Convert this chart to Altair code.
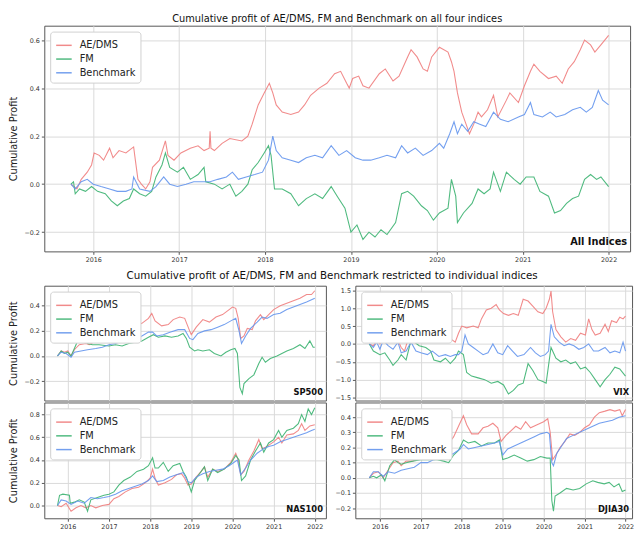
import altair as alt
import pandas as pd

SERIES = ["AE/DMS", "FM", "Benchmark"]
COLORS = ["#f07e7e", "#3cb371", "#6495ed"]
YEARS = [2016, 2017, 2018, 2019, 2020, 2021, 2022]
FONT = "DejaVu Sans"

# ---------------- All indices ----------------
ALL_AEDMS = [[2015.74,0.00],[2015.81,-0.02],[2015.86,0.02],[2015.93,0.05],[2015.98,0.08],[2016.01,0.13],[2016.07,0.12],[2016.12,0.10],[2016.19,0.15],[2016.23,0.11],[2016.30,0.14],[2016.38,0.13],[2016.47,0.155],[2016.49,0.10],[2016.52,0.02],[2016.56,0.00],[2016.61,-0.02],[2016.66,0.01],[2016.69,0.07],[2016.77,0.10],[2016.84,0.18],[2016.87,0.12],[2016.94,0.10],[2017.02,0.13],[2017.13,0.15],[2017.22,0.16],[2017.29,0.14],[2017.35,0.15],[2017.36,0.22],[2017.37,0.15],[2017.41,0.14],[2017.50,0.17],[2017.59,0.19],[2017.73,0.18],[2017.80,0.20],[2017.85,0.25],[2017.92,0.33],[2017.99,0.38],[2018.05,0.42],[2018.09,0.38],[2018.13,0.33],[2018.20,0.30],[2018.30,0.29],[2018.39,0.30],[2018.46,0.33],[2018.53,0.37],[2018.63,0.40],[2018.72,0.42],[2018.81,0.46],[2018.88,0.47],[2018.95,0.42],[2018.98,0.40],[2019.02,0.44],[2019.09,0.45],[2019.14,0.41],[2019.21,0.40],[2019.33,0.46],[2019.40,0.48],[2019.49,0.43],[2019.56,0.45],[2019.66,0.53],[2019.70,0.56],[2019.77,0.53],[2019.84,0.48],[2019.89,0.47],[2019.94,0.53],[2020.03,0.57],[2020.13,0.55],[2020.17,0.51],[2020.20,0.47],[2020.24,0.38],[2020.29,0.30],[2020.34,0.25],[2020.38,0.21],[2020.43,0.25],[2020.48,0.30],[2020.52,0.28],[2020.59,0.31],[2020.66,0.37],[2020.71,0.28],[2020.81,0.35],[2020.85,0.38],[2020.95,0.34],[2021.02,0.41],[2021.09,0.47],[2021.13,0.50],[2021.20,0.47],[2021.30,0.44],[2021.39,0.45],[2021.46,0.42],[2021.53,0.48],[2021.60,0.51],[2021.67,0.56],[2021.72,0.60],[2021.79,0.58],[2021.84,0.55],[2021.91,0.58],[2022.00,0.62]]
ALL_FM = [[2015.74,0.00],[2015.77,0.01],[2015.79,-0.04],[2015.84,-0.02],[2015.91,-0.03],[2015.98,-0.01],[2016.05,-0.03],[2016.14,-0.04],[2016.21,-0.07],[2016.28,-0.09],[2016.35,-0.07],[2016.42,-0.06],[2016.47,-0.02],[2016.54,-0.04],[2016.61,-0.05],[2016.68,-0.03],[2016.73,0.03],[2016.80,0.08],[2016.84,0.13],[2016.89,0.07],[2016.98,0.05],[2017.05,0.07],[2017.13,0.02],[2017.22,0.04],[2017.29,0.07],[2017.31,0.01],[2017.41,0.00],[2017.50,-0.02],[2017.59,0.00],[2017.66,-0.05],[2017.73,-0.03],[2017.80,0.00],[2017.85,0.06],[2017.92,0.09],[2017.99,0.13],[2018.04,0.16],[2018.07,0.12],[2018.11,-0.02],[2018.20,-0.02],[2018.30,-0.04],[2018.39,-0.09],[2018.48,-0.06],[2018.58,-0.04],[2018.67,-0.06],[2018.77,-0.01],[2018.84,-0.05],[2018.93,-0.10],[2019.00,-0.20],[2019.07,-0.17],[2019.14,-0.23],[2019.21,-0.20],[2019.28,-0.22],[2019.35,-0.19],[2019.42,-0.21],[2019.52,-0.16],[2019.59,-0.04],[2019.66,-0.03],[2019.73,-0.05],[2019.82,-0.09],[2019.89,-0.11],[2019.96,-0.15],[2020.03,-0.12],[2020.13,-0.10],[2020.17,0.02],[2020.22,-0.05],[2020.24,-0.16],[2020.31,-0.12],[2020.41,-0.08],[2020.48,-0.02],[2020.55,-0.04],[2020.62,-0.02],[2020.66,0.05],[2020.74,-0.03],[2020.81,0.05],[2020.90,0.02],[2020.97,0.00],[2021.04,0.03],[2021.13,0.03],[2021.20,-0.03],[2021.30,-0.05],[2021.37,-0.12],[2021.44,-0.11],[2021.51,-0.08],[2021.58,-0.06],[2021.65,-0.05],[2021.72,0.02],[2021.79,0.04],[2021.86,0.02],[2021.91,0.03],[2022.00,-0.01]]
ALL_BENCH = [[2015.74,0.00],[2015.79,-0.02],[2015.86,0.01],[2015.93,0.02],[2016.00,0.00],[2016.09,-0.01],[2016.19,-0.02],[2016.28,-0.03],[2016.38,-0.03],[2016.45,-0.02],[2016.47,0.03],[2016.54,-0.02],[2016.66,-0.03],[2016.73,-0.01],[2016.82,0.03],[2016.89,0.00],[2016.98,-0.01],[2017.08,0.00],[2017.17,0.01],[2017.27,0.01],[2017.36,0.01],[2017.45,0.02],[2017.55,0.03],[2017.62,0.05],[2017.69,0.02],[2017.78,0.03],[2017.88,0.04],[2017.97,0.05],[2018.04,0.10],[2018.09,0.20],[2018.13,0.14],[2018.20,0.11],[2018.30,0.10],[2018.39,0.09],[2018.48,0.11],[2018.58,0.12],[2018.67,0.11],[2018.77,0.16],[2018.86,0.12],[2018.95,0.14],[2019.05,0.11],[2019.14,0.10],[2019.23,0.10],[2019.33,0.11],[2019.42,0.12],[2019.52,0.11],[2019.59,0.16],[2019.66,0.13],[2019.75,0.15],[2019.84,0.12],[2019.94,0.14],[2020.03,0.17],[2020.08,0.15],[2020.15,0.21],[2020.20,0.26],[2020.24,0.21],[2020.29,0.25],[2020.36,0.22],[2020.43,0.26],[2020.50,0.25],[2020.57,0.24],[2020.66,0.30],[2020.74,0.27],[2020.83,0.26],[2020.95,0.28],[2021.02,0.29],[2021.09,0.34],[2021.13,0.29],[2021.23,0.28],[2021.32,0.30],[2021.39,0.28],[2021.49,0.29],[2021.58,0.31],[2021.67,0.32],[2021.74,0.30],[2021.81,0.32],[2021.88,0.39],[2021.93,0.35],[2022.00,0.33]]

# ---------------- SP500 ----------------
SP_AEDMS = [[2015.75,0.00],[2015.84,0.04],[2015.92,0.03],[2016.00,0.04],[2016.08,0.00],[2016.16,0.05],[2016.28,0.09],[2016.44,0.10],[2016.52,0.09],[2016.68,0.12],[2016.84,0.14],[2017.00,0.19],[2017.16,0.20],[2017.32,0.23],[2017.48,0.22],[2017.64,0.24],[2017.80,0.26],[2017.96,0.30],[2018.04,0.34],[2018.12,0.28],[2018.28,0.24],[2018.44,0.25],[2018.56,0.29],[2018.72,0.31],[2018.84,0.30],[2018.96,0.20],[2019.00,0.17],[2019.12,0.23],[2019.28,0.29],[2019.44,0.27],[2019.60,0.31],[2019.76,0.33],[2019.92,0.37],[2020.00,0.39],[2020.08,0.38],[2020.14,0.30],[2020.20,0.14],[2020.28,0.16],[2020.36,0.22],[2020.48,0.21],[2020.56,0.28],[2020.68,0.33],[2020.76,0.29],[2020.88,0.33],[2021.00,0.37],[2021.16,0.40],[2021.32,0.42],[2021.48,0.44],[2021.64,0.46],[2021.80,0.49],[2021.92,0.49],[2022.00,0.52]]
SP_FM = [[2015.75,0.00],[2015.84,0.04],[2015.92,0.02],[2016.00,0.03],[2016.08,0.00],[2016.16,0.06],[2016.24,0.12],[2016.32,0.13],[2016.40,0.13],[2016.48,0.10],[2016.60,0.09],[2016.76,0.09],[2017.00,0.08],[2017.16,0.09],[2017.32,0.08],[2017.48,0.10],[2017.64,0.11],[2017.80,0.12],[2017.96,0.15],[2018.08,0.17],[2018.20,0.15],[2018.36,0.16],[2018.52,0.15],[2018.68,0.16],[2018.80,0.18],[2018.88,0.14],[2018.96,0.07],[2019.08,0.04],[2019.16,0.05],[2019.28,0.04],[2019.44,0.05],[2019.56,0.02],[2019.72,0.00],[2019.84,0.03],[2019.96,0.05],[2020.06,0.06],[2020.12,0.02],[2020.18,-0.25],[2020.24,-0.30],[2020.28,-0.22],[2020.40,-0.18],[2020.52,-0.15],[2020.64,-0.06],[2020.72,-0.01],[2020.80,-0.05],[2020.92,-0.02],[2021.08,0.00],[2021.20,0.02],[2021.32,0.04],[2021.48,0.06],[2021.64,0.09],[2021.76,0.06],[2021.88,0.12],[2021.96,0.07],[2022.00,0.07]]
SP_BENCH = [[2015.75,0.00],[2015.84,0.03],[2015.96,0.02],[2016.08,-0.01],[2016.16,0.03],[2016.32,0.04],[2016.48,0.05],[2016.68,0.06],[2016.84,0.07],[2017.00,0.09],[2017.16,0.10],[2017.32,0.12],[2017.48,0.13],[2017.64,0.14],[2017.80,0.16],[2017.96,0.19],[2018.06,0.19],[2018.16,0.16],[2018.32,0.17],[2018.48,0.19],[2018.68,0.21],[2018.84,0.21],[2018.96,0.14],[2019.04,0.13],[2019.16,0.18],[2019.32,0.20],[2019.48,0.21],[2019.64,0.23],[2019.80,0.25],[2019.96,0.28],[2020.08,0.30],[2020.16,0.20],[2020.22,0.10],[2020.32,0.16],[2020.44,0.22],[2020.60,0.27],[2020.72,0.31],[2020.84,0.30],[2021.00,0.33],[2021.16,0.34],[2021.32,0.37],[2021.48,0.39],[2021.64,0.41],[2021.80,0.43],[2022.00,0.46]]

# ---------------- NAS100 ----------------
NAS_AEDMS = [[2015.75,0.00],[2015.84,-0.01],[2015.96,0.02],[2016.08,-0.05],[2016.20,-0.02],[2016.32,0.00],[2016.44,-0.02],[2016.56,0.00],[2016.68,-0.02],[2016.84,0.00],[2017.00,0.01],[2017.12,0.06],[2017.24,0.08],[2017.40,0.12],[2017.56,0.15],[2017.72,0.16],[2017.88,0.20],[2018.00,0.24],[2018.06,0.32],[2018.12,0.24],[2018.20,0.18],[2018.36,0.20],[2018.52,0.23],[2018.64,0.27],[2018.76,0.28],[2018.84,0.24],[2018.92,0.18],[2019.00,0.19],[2019.12,0.25],[2019.24,0.30],[2019.32,0.34],[2019.40,0.25],[2019.52,0.32],[2019.64,0.30],[2019.80,0.32],[2019.96,0.38],[2020.08,0.46],[2020.14,0.40],[2020.20,0.27],[2020.28,0.30],[2020.40,0.40],[2020.52,0.48],[2020.64,0.58],[2020.72,0.50],[2020.84,0.52],[2021.00,0.56],[2021.12,0.60],[2021.20,0.55],[2021.32,0.62],[2021.48,0.63],[2021.60,0.66],[2021.68,0.72],[2021.76,0.66],[2021.88,0.70],[2022.00,0.71]]
NAS_FM = [[2015.75,0.00],[2015.80,0.09],[2015.88,0.10],[2016.04,0.09],[2016.06,0.02],[2016.16,0.03],[2016.28,0.05],[2016.40,0.03],[2016.48,-0.05],[2016.56,0.05],[2016.72,0.07],[2016.88,0.09],[2017.00,0.10],[2017.12,0.12],[2017.24,0.18],[2017.36,0.22],[2017.52,0.25],[2017.68,0.30],[2017.84,0.32],[2017.96,0.35],[2018.06,0.42],[2018.12,0.33],[2018.20,0.33],[2018.32,0.38],[2018.44,0.30],[2018.56,0.35],[2018.72,0.37],[2018.80,0.30],[2018.88,0.25],[2019.00,0.12],[2019.08,0.22],[2019.20,0.28],[2019.32,0.34],[2019.40,0.22],[2019.52,0.32],[2019.64,0.29],[2019.80,0.32],[2019.96,0.37],[2020.08,0.44],[2020.16,0.40],[2020.22,0.22],[2020.32,0.26],[2020.44,0.40],[2020.56,0.48],[2020.68,0.55],[2020.76,0.47],[2020.88,0.55],[2021.00,0.58],[2021.12,0.66],[2021.20,0.60],[2021.32,0.66],[2021.48,0.68],[2021.60,0.72],[2021.68,0.80],[2021.76,0.74],[2021.84,0.85],[2021.92,0.80],[2022.00,0.86]]
NAS_BENCH = [[2015.75,0.00],[2015.84,0.05],[2015.96,0.04],[2016.08,0.01],[2016.24,0.04],[2016.40,0.02],[2016.56,0.07],[2016.72,0.06],[2016.88,0.07],[2017.00,0.08],[2017.16,0.10],[2017.32,0.13],[2017.48,0.15],[2017.64,0.17],[2017.80,0.19],[2017.96,0.22],[2018.06,0.26],[2018.16,0.21],[2018.32,0.22],[2018.48,0.25],[2018.64,0.27],[2018.80,0.29],[2018.92,0.21],[2019.00,0.20],[2019.12,0.25],[2019.28,0.28],[2019.44,0.30],[2019.60,0.31],[2019.76,0.32],[2019.92,0.35],[2020.04,0.38],[2020.12,0.40],[2020.20,0.27],[2020.32,0.33],[2020.44,0.40],[2020.60,0.46],[2020.76,0.50],[2020.88,0.52],[2021.00,0.53],[2021.16,0.56],[2021.32,0.58],[2021.48,0.60],[2021.64,0.62],[2021.80,0.64],[2021.92,0.66],[2022.00,0.67]]

# ---------------- VIX ----------------
VIX_AEDMS = [[2015.74,0.00],[2015.84,-0.05],[2015.92,0.10],[2016.00,0.00],[2016.12,0.20],[2016.20,0.45],[2016.32,0.30],[2016.44,0.10],[2016.52,-0.10],[2016.60,-0.20],[2016.68,0.10],[2016.76,0.20],[2016.88,0.30],[2017.00,0.20],[2017.12,0.15],[2017.28,0.25],[2017.44,0.15],[2017.60,0.10],[2017.72,0.15],[2017.84,0.05],[2017.92,0.30],[2018.00,0.50],[2018.12,0.45],[2018.28,0.50],[2018.40,0.45],[2018.48,0.70],[2018.60,0.95],[2018.72,1.00],[2018.84,1.10],[2018.92,0.95],[2019.02,0.85],[2019.14,0.80],[2019.26,0.85],[2019.38,0.80],[2019.50,1.25],[2019.62,1.20],[2019.74,1.05],[2019.86,0.90],[2019.98,0.85],[2020.06,1.00],[2020.14,1.25],[2020.18,1.48],[2020.22,0.90],[2020.30,0.40],[2020.42,0.20],[2020.54,0.05],[2020.66,0.15],[2020.78,0.10],[2020.90,0.30],[2021.02,0.25],[2021.10,0.70],[2021.18,0.40],[2021.26,0.25],[2021.38,0.30],[2021.50,0.55],[2021.58,0.35],[2021.66,0.65],[2021.78,0.60],[2021.86,0.75],[2021.94,0.70],[2022.00,0.78]]
VIX_FM = [[2015.74,0.00],[2015.84,-0.20],[2016.00,-0.30],[2016.12,-0.25],[2016.24,-0.45],[2016.32,-0.60],[2016.44,-0.45],[2016.52,-0.30],[2016.64,-0.45],[2016.76,0.10],[2016.84,0.05],[2016.96,-0.05],[2017.12,-0.10],[2017.24,-0.20],[2017.32,-0.45],[2017.48,-0.50],[2017.60,-0.40],[2017.72,-0.55],[2017.84,-0.40],[2017.92,-0.20],[2018.04,-0.30],[2018.12,-0.80],[2018.24,-0.90],[2018.40,-0.95],[2018.56,-1.00],[2018.72,-1.10],[2018.88,-1.05],[2019.02,-1.15],[2019.14,-1.40],[2019.26,-1.30],[2019.38,-1.15],[2019.50,-1.10],[2019.62,-0.55],[2019.74,-0.75],[2019.86,-1.00],[2019.98,-1.05],[2020.06,-1.10],[2020.12,-0.60],[2020.18,-0.10],[2020.22,-0.20],[2020.30,-0.40],[2020.42,-0.50],[2020.54,-0.45],[2020.66,-0.55],[2020.78,-0.50],[2020.90,-0.70],[2021.02,-0.65],[2021.14,-0.80],[2021.26,-1.00],[2021.38,-1.20],[2021.50,-1.00],[2021.62,-0.85],[2021.74,-0.65],[2021.86,-0.70],[2022.00,-0.90]]
VIX_BENCH = [[2015.74,0.00],[2015.84,-0.10],[2015.92,0.05],[2016.00,-0.15],[2016.08,0.10],[2016.20,-0.05],[2016.32,-0.15],[2016.44,0.05],[2016.52,-0.25],[2016.64,-0.20],[2016.76,0.05],[2016.88,-0.20],[2017.00,-0.25],[2017.16,-0.30],[2017.28,-0.20],[2017.44,-0.35],[2017.60,-0.30],[2017.72,-0.35],[2017.84,-0.30],[2017.92,-0.30],[2018.00,-0.20],[2018.08,0.25],[2018.16,0.00],[2018.28,-0.10],[2018.40,-0.20],[2018.52,-0.30],[2018.64,-0.25],[2018.76,0.00],[2018.88,-0.25],[2019.00,-0.30],[2019.12,-0.05],[2019.24,-0.20],[2019.36,-0.35],[2019.52,-0.30],[2019.68,-0.10],[2019.80,-0.25],[2019.92,-0.35],[2020.04,-0.30],[2020.12,-0.20],[2020.18,0.55],[2020.26,0.20],[2020.38,0.05],[2020.50,-0.05],[2020.62,0.00],[2020.74,-0.05],[2020.86,-0.15],[2020.98,-0.10],[2021.10,0.00],[2021.22,-0.20],[2021.34,-0.20],[2021.50,-0.10],[2021.62,-0.25],[2021.74,-0.20],[2021.86,-0.25],[2021.94,0.05],[2022.00,-0.20]]

# ---------------- DJIA30 ----------------
DJI_AEDMS = [[2015.74,0.00],[2015.84,0.03],[2015.96,0.04],[2016.08,0.00],[2016.20,0.05],[2016.32,0.10],[2016.44,0.11],[2016.52,0.08],[2016.64,0.11],[2016.80,0.11],[2016.96,0.13],[2017.12,0.16],[2017.36,0.18],[2017.60,0.20],[2017.80,0.27],[2017.92,0.34],[2018.04,0.41],[2018.12,0.35],[2018.24,0.29],[2018.40,0.29],[2018.52,0.33],[2018.64,0.34],[2018.76,0.36],[2018.88,0.33],[2018.96,0.24],[2019.08,0.28],[2019.20,0.31],[2019.32,0.34],[2019.44,0.32],[2019.56,0.37],[2019.68,0.33],[2019.84,0.35],[2020.00,0.37],[2020.10,0.39],[2020.16,0.30],[2020.22,0.12],[2020.32,0.16],[2020.40,0.20],[2020.52,0.24],[2020.64,0.29],[2020.76,0.28],[2020.88,0.30],[2021.00,0.33],[2021.12,0.35],[2021.24,0.40],[2021.36,0.43],[2021.50,0.44],[2021.62,0.45],[2021.74,0.44],[2021.86,0.45],[2021.92,0.41],[2022.00,0.45]]
DJI_FM = [[2015.74,0.00],[2015.84,0.01],[2015.92,0.00],[2016.04,0.02],[2016.12,-0.02],[2016.24,0.08],[2016.36,0.12],[2016.44,0.10],[2016.52,0.09],[2016.64,0.10],[2016.80,0.11],[2017.00,0.12],[2017.20,0.12],[2017.40,0.12],[2017.56,0.11],[2017.68,0.10],[2017.80,0.15],[2017.92,0.18],[2018.04,0.25],[2018.16,0.23],[2018.32,0.24],[2018.48,0.21],[2018.64,0.23],[2018.80,0.23],[2018.92,0.25],[2019.00,0.12],[2019.12,0.13],[2019.28,0.15],[2019.44,0.13],[2019.60,0.11],[2019.76,0.12],[2019.92,0.14],[2020.08,0.13],[2020.16,0.13],[2020.20,-0.15],[2020.24,-0.22],[2020.28,-0.12],[2020.40,-0.10],[2020.56,-0.07],[2020.72,-0.08],[2020.88,-0.07],[2021.04,-0.04],[2021.20,-0.02],[2021.32,-0.03],[2021.48,-0.04],[2021.60,-0.03],[2021.72,-0.06],[2021.84,-0.04],[2021.92,-0.09],[2022.00,-0.08]]
DJI_BENCH = [[2015.74,0.00],[2015.84,0.04],[2015.96,0.04],[2016.08,0.01],[2016.20,0.04],[2016.36,0.03],[2016.52,0.05],[2016.68,0.06],[2016.84,0.07],[2017.00,0.10],[2017.16,0.10],[2017.32,0.12],[2017.48,0.13],[2017.64,0.14],[2017.80,0.16],[2017.96,0.19],[2018.04,0.22],[2018.16,0.19],[2018.32,0.20],[2018.48,0.21],[2018.64,0.22],[2018.80,0.23],[2018.92,0.24],[2019.00,0.15],[2019.12,0.19],[2019.28,0.21],[2019.44,0.23],[2019.60,0.25],[2019.76,0.27],[2019.92,0.29],[2020.08,0.30],[2020.14,0.29],[2020.20,0.10],[2020.24,0.08],[2020.32,0.16],[2020.44,0.21],[2020.56,0.26],[2020.72,0.28],[2020.88,0.30],[2021.04,0.32],[2021.20,0.34],[2021.36,0.36],[2021.52,0.37],[2021.68,0.38],[2021.84,0.40],[2022.00,0.41]]


def frame(aedms, fm, bench):
    rows = []
    for name, pts in zip(SERIES, (aedms, fm, bench)):
        for t, v in pts:
            rows.append({"t": t, "v": v, "s": name})
    return pd.DataFrame(rows)


def panel(df, label, label_size, xdom, ydom, yticks, w, h, show_x, ytitle):
    color = alt.Color(
        "s:N",
        scale=alt.Scale(domain=SERIES, range=COLORS),
        legend=alt.Legend(title=None, orient="top-left", offset=6),
    )
    x = alt.X(
        "t:Q",
        scale=alt.Scale(domain=xdom, nice=False, zero=False),
        axis=alt.Axis(values=YEARS, format="d", labels=show_x, ticks=show_x, title=None),
    )
    if ytitle:
        yaxis = alt.Axis(values=yticks, format=".1f", title=ytitle)
    else:
        yaxis = alt.Axis(values=yticks, format=".1f", title=None)
    y = alt.Y("v:Q", scale=alt.Scale(domain=ydom, nice=False, zero=False), axis=yaxis)
    lines = alt.Chart(df).mark_line(strokeWidth=1.1, opacity=0.9, clip=True).encode(
        x=x, y=y, color=color
    )
    txt = alt.Chart(pd.DataFrame({"label": [label]})).mark_text(
        align="right", baseline="bottom", fontWeight="bold", fontSize=label_size, font=FONT, color="#111"
    ).encode(x=alt.value(w - 3), y=alt.value(h - 4), text="label:N")
    return alt.layer(lines, txt).properties(width=w, height=h)


top = panel(frame(ALL_AEDMS, ALL_FM, ALL_BENCH), "All Indices", 10,
            [2015.43, 2022.25], [-0.28, 0.66], [-0.2, 0.0, 0.2, 0.4, 0.6],
            597, 230, True, "Cumulative Profit").properties(
    title=alt.TitleParams("Cumulative profit of AE/DMS, FM and Benchmark on all four indices",
                          fontSize=10, font=FONT, fontWeight="normal", color="#111", offset=2)
)

LX = [2015.43, 2022.27]
RX = [2015.40, 2022.16]
sp = panel(frame(SP_AEDMS, SP_FM, SP_BENCH), "SP500", 8.5, LX, [-0.355, 0.56],
           [-0.2, 0.0, 0.2, 0.4], 287, 117, False, "Cumulative Profit")
nas = panel(frame(NAS_AEDMS, NAS_FM, NAS_BENCH), "NAS100", 8.5, LX, [-0.112, 0.906],
            [0.0, 0.2, 0.4, 0.6, 0.8], 287, 118, True, "Cumulative Profit")
vix = panel(frame(VIX_AEDMS, VIX_FM, VIX_BENCH), "VIX", 8.5, RX, [-1.585, 1.63],
            [-1.5, -1.0, -0.5, 0.0, 0.5, 1.0, 1.5], 282, 117, False, None)
dji = panel(frame(DJI_AEDMS, DJI_FM, DJI_BENCH), "DJIA30", 8.5, RX, [-0.267, 0.497],
            [-0.2, -0.1, 0.0, 0.1, 0.2, 0.3, 0.4], 282, 118, True, None)

row1 = alt.hconcat(sp, vix, spacing=6).resolve_scale(color="independent")
row2 = alt.hconcat(nas, dji, spacing=6).resolve_scale(color="independent")
bottom = alt.vconcat(
    row1, row2, spacing=0,
    title=alt.TitleParams("Cumulative profit of AE/DMS, FM and Benchmark restricted to individual indices",
                          fontSize=10.5, font=FONT, fontWeight="normal", color="#111", offset=4,
                          anchor="middle", dx=11),
).resolve_scale(color="independent")

chart = alt.vconcat(top, bottom, spacing=8).resolve_scale(
    color="independent"
).properties(
    padding={"left": 0, "top": 0, "right": 0, "bottom": 0}
).configure(font=FONT).configure_view(
    stroke="#555", strokeWidth=1
).configure_axis(
    grid=True, gridColor="#d9d9d9", gridWidth=1, domain=False,
    labelFont=FONT, labelFontSize=6.5, labelColor="#333", labelPadding=2,
    tickColor="#555", tickSize=3,
    titleFont=FONT, titleFontSize=10, titleFontWeight="normal", titleColor="#222", titlePadding=4,
).configure_axisY(
    minExtent=22, maxExtent=22
).configure_legend(
    fillColor="white", strokeColor="#d0d0d0", cornerRadius=3, padding=5,
    labelFont=FONT, labelFontSize=10, labelColor="#222", labelOffset=7,
    symbolType="stroke", symbolSize=250, symbolStrokeWidth=1.5, rowPadding=0,
)

chart.save("out.html", embed_options={"renderer": "svg", "actions": False})
